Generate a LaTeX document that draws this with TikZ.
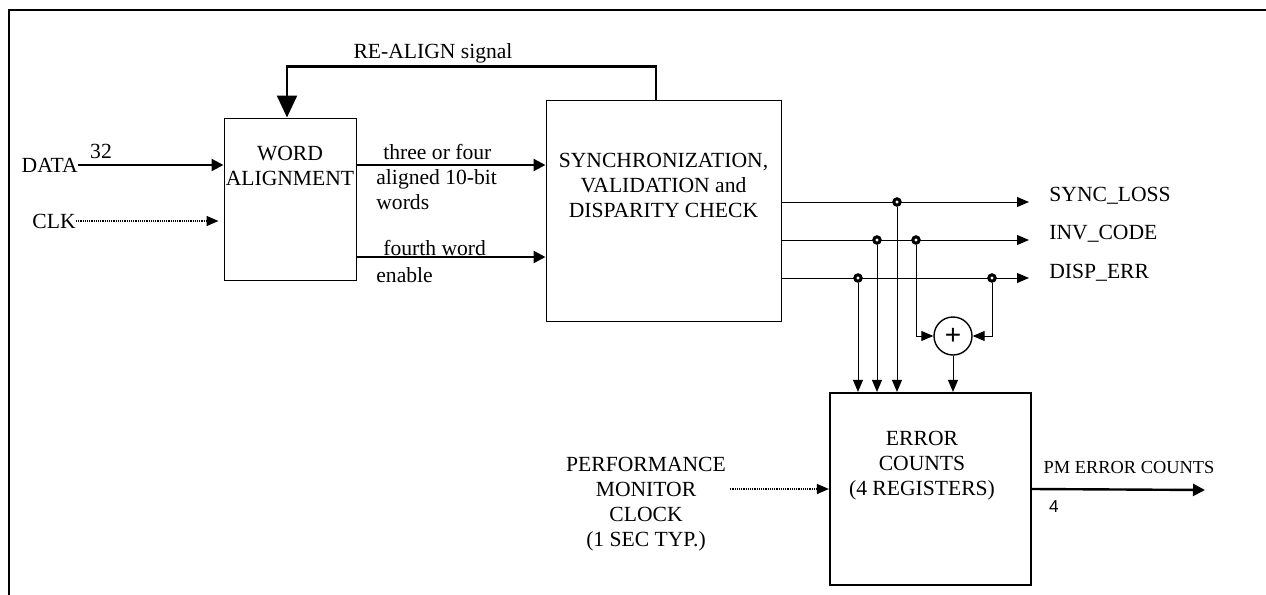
\documentclass[tikz,border=0pt]{standalone}
\usepackage{fontspec}
\setmainfont{Liberation Serif}
\newfontfamily\arialfont{Liberation Sans}
\usetikzlibrary{arrows.meta, positioning, calc}

\begin{document}
\begin{tikzpicture}[
    x=0.5pt, y=-0.5pt,
    font=\fontsize{10.8}{12.5}\selectfont,
    blk/.style={draw, line width=0.5pt, inner sep=0pt},
    txt/.style={inner sep=0pt, align=center},
    dot/.style={circle, draw, fill=white, line width=1.5pt, minimum size=3.2pt, inner sep=0pt},
    sumnode/.style={circle, draw, line width=0.7pt, minimum size=19pt, inner sep=0pt, font=\arialfont\fontsize{14}{14}\selectfont},
    arr/.style={-{Triangle[length=6pt, width=5pt]}, line width=0.5pt},
    arrthick/.style={-{Triangle[length=6pt, width=6pt]}, line width=1.2pt},
    dotarr/.style={-{Triangle[length=6pt, width=5pt]}, line width=0.7pt, dash pattern=on 0.6pt off 0.5pt}
]
\useasboundingbox (0,0) rectangle (1266,595);
\draw[line width=1.1pt] (9,595) -- (9,10) -- (1266,10);

% blocks
\node[blk, minimum width=66pt, minimum height=81pt] (align) at (290,199) {};
\node[blk, minimum width=117.5pt, minimum height=110.5pt, right=94.5pt of align, yshift=-5.75pt] (sync) {};
\node[blk, line width=1.1pt, minimum width=100.5pt, minimum height=96pt] (err) at (930.5,489) {};
\node[txt, below=14pt of align.north] (aligntxt) {WORD\\ALIGNMENT};
\node[txt, below=26.5pt of sync.north] (synctxt) {SYNCHRONIZATION,\\VALIDATION and\\DISPARITY CHECK};
\node[txt, below=19.5pt of err.north, xshift=-4.25pt] (errtxt) {ERROR\\COUNTS\\(4 REGISTERS)};

% inputs
\node[txt, anchor=east] (datain) at (78,165) {DATA};
\node[txt] (datawidth) at (101,151) {32};
\node[txt, anchor=east] (clk) at (76,221) {CLK};
\draw[arrthick] (datain.east) -- (datain.east -| align.west);
\draw[dotarr] (clk.east) -- ([xshift=-2.5pt]clk.east -| align.west);

% re-align feedback
\node[txt] (realign) at (433,53) {RE-ALIGN signal};
\draw[-{Triangle[length=11pt, width=10pt]}, line width=1.2pt] ([xshift=-3.75pt]sync.north) -- ++(0,-33) -| ([xshift=-1.5pt]align.north);

% aligned words
\coordinate (fwy) at (0,257);
\node[txt, align=left, anchor=north west] (wordslbl) at (376,144) {\hspace*{3.5pt}three or four\\aligned 10-bit\\words};
\node[txt, anchor=base west] (fwlbl) at (383,255) {fourth word};
\node[txt, anchor=base west] (enlbl) at (376,282) {enable};
\draw[arrthick] (align.east |- datain.east) -- (sync.west |- datain.east);
\draw[arrthick] (align.east |- fwy) -- (sync.west |- fwy);

% status outputs
\coordinate (slend) at (1029,202);
\coordinate (icend) at (1029,240);
\coordinate (deend) at (1029,278);
\node[txt, anchor=base west] (sllbl) at (1049,201) {SYNC\_LOSS};
\node[txt, anchor=base west] (iclbl) at (1049,239) {INV\_CODE};
\node[txt, anchor=base west] (delbl) at (1049,278) {DISP\_ERR};
\draw[arr] (sync.east |- slend) -- (slend);
\draw[arr] (sync.east |- icend) -- (icend);
\draw[arr] (sync.east |- deend) -- (deend);

% taps
\node[dot] (dsl) at (897,202) {};
\node[dot] (dic1) at (877,240) {};
\node[dot] (dic2) at (916,240) {};
\node[dot] (dde1) at (858,278) {};
\node[dot] (dde2) at (992,278) {};
\node[sumnode] (sum) at (953,336) {+};
\draw[arr] (dde1.south) -- (dde1.south |- err.north);
\draw[arr] (dic1.south) -- (dic1.south |- err.north);
\draw[arr] (dsl.south) -- (dsl.south |- err.north);
\draw[arr] (dic2.south) |- (sum.west);
\draw[arr] (dde2.south) |- (sum.east);
\draw[arr] (sum.south) -- (sum.south |- err.north);

% performance monitor
\node[txt, anchor=north] (pmclk) at (646,457) {PERFORMANCE\\MONITOR\\CLOCK\\(1 SEC TYP.)};
\draw[dotarr] ([xshift=2pt]pmclk.east |- err.west) -- (err.west);
\coordinate (pmend) at (1205,490);
\node[txt, anchor=base, font=\fontsize{9.2}{10}\selectfont] (pmlbl) at (1129,473) {PM ERROR COUNTS};
\node[txt, font=\arialfont\fontsize{8.6}{10}\selectfont] (pmwidth) at (1054,507) {4};
\draw[arrthick] (err.east) -- (pmend);
\end{tikzpicture}
\end{document}
